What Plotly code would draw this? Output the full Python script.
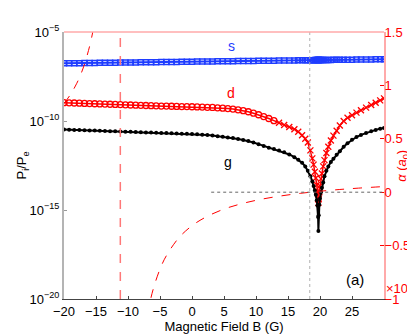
'''
    Partial widths P_i/P_e of the s, d and g channels against the magnetic
    field, with the scattering length drawn on a second (right) axis.
'''

import plotly.graph_objects as go

# field grid shared by the three channels (denser near the minimum)
B_GRID = [-20, -19.2, -18.4, -17.6, -16.8, -16, -15.2, -14.4, -13.6, -12.8,
          -12, -11.2, -10.4, -9.6, -8.8, -8, -7.2, -6.4, -5.6, -4.8,
          -4, -3.2, -2.4, -1.6, -0.8, 0, 0.8, 1.6, 2.4, 3.2,
          4, 4.8, 5.6, 6.4, 7.2, 8, 8.8, 9.6, 10.4, 11.2,
          12, 12.8, 13.6, 14.4, 15.2, 16, 16.6, 17.2, 17.7, 18.1,
          18.5, 18.8, 19.0, 19.2, 19.35, 19.5, 19.6, 19.7, 19.75, 19.8,
          19.9, 20.0, 20.15, 20.3, 20.5, 20.7, 21.0, 21.3, 21.7, 22.1,
          22.6, 23.1, 23.7, 24.3, 25.0, 25.7, 26.4, 27.2, 28.0, 28.7,
          29.4, 30.0]

# log10(P_i/P_e)
S_LOG = [-6.760, -6.756, -6.753, -6.749, -6.745, -6.742, -6.738, -6.734, -6.731, -6.727,
         -6.723, -6.720, -6.716, -6.712, -6.709, -6.705, -6.701, -6.697, -6.694, -6.690,
         -6.686, -6.683, -6.679, -6.675, -6.672, -6.668, -6.664, -6.661, -6.657, -6.653,
         -6.650, -6.646, -6.642, -6.639, -6.635, -6.631, -6.628, -6.624, -6.620, -6.617,
         -6.613, -6.609, -6.606, -6.602, -6.598, -6.595, -6.592, -6.589, -6.587, -6.585,
         -6.583, -6.582, -6.581, -6.580, -6.579, -6.579, -6.578, -6.578, -6.578, -6.577,
         -6.577, -6.576, -6.575, -6.575, -6.574, -6.573, -6.571, -6.570, -6.568, -6.566,
         -6.564, -6.562, -6.559, -6.556, -6.553, -6.550, -6.547, -6.543, -6.540, -6.536,
         -6.533, -6.530]

D_LOG = [-8.97, -8.98, -8.99, -9.00, -9.01, -9.02, -9.03, -9.04, -9.05, -9.06,
         -9.07, -9.08, -9.09, -9.10, -9.11, -9.12, -9.13, -9.14, -9.15, -9.16,
         -9.16, -9.17, -9.18, -9.19, -9.19, -9.20, -9.21, -9.22, -9.23, -9.24,
         -9.26, -9.28, -9.30, -9.33, -9.37, -9.42, -9.48, -9.56, -9.65, -9.75,
         -9.86, -9.98, -10.10, -10.22, -10.34, -10.46, -10.60, -10.80, -11.00, -11.21,
         -11.65, -12.10, -12.45, -12.85, -13.20, -13.60, -13.95, -14.40, -14.60, -14.40,
         -14.00, -13.65, -13.25, -12.95, -12.55, -12.20, -11.80, -11.45, -11.10, -10.82,
         -10.55, -10.25, -10.00, -9.82, -9.68, -9.53, -9.40, -9.25, -9.10, -8.97,
         -8.84, -8.73]

G_LOG = [-10.48, -10.49, -10.50, -10.51, -10.52, -10.53, -10.54, -10.55, -10.56, -10.57,
         -10.58, -10.59, -10.60, -10.61, -10.62, -10.63, -10.64, -10.65, -10.66, -10.67,
         -10.68, -10.69, -10.70, -10.71, -10.72, -10.73, -10.75, -10.77, -10.79, -10.82,
         -10.85, -10.88, -10.92, -10.96, -11.01, -11.07, -11.13, -11.21, -11.30, -11.40,
         -11.50, -11.58, -11.66, -11.76, -11.88, -12.03, -12.17, -12.35, -12.55, -12.80,
         -13.10, -13.40, -13.65, -13.90, -14.15, -14.45, -14.75, -15.40, -16.18, -15.30,
         -14.70, -14.35, -14.00, -13.75, -13.45, -13.10, -12.80, -12.55, -12.30, -12.12,
         -11.90, -11.70, -11.45, -11.25, -11.06, -10.90, -10.78, -10.67, -10.58, -10.50,
         -10.43, -10.39]

# the d channel switches from circles to crosses above this field
D_CROSS_FROM = 13

# scattering length (units of 1e4 a0), two branches around the pole
A_LEFT_B = [-20, -19, -18, -17, -16, -15.5, -15]
A_LEFT = [0.831, 0.914, 1.020, 1.163, 1.366, 1.502, 1.675]
A_RIGHT_B = [-7, -6.5, -6, -5, -4, -2, 0, 2, 5, 8, 11, 14, 17, 20, 23, 26, 30]
A_RIGHT = [-1.154, -1.011, -0.895, -0.720, -0.594, -0.423, -0.314, -0.238,
           -0.158, -0.104, -0.064, -0.034, -0.010, 0.009, 0.025, 0.038, 0.053]

POLE_B = -11.2
ZERO_B = 18.4
ZERO_LINE_FROM = 3

X_TICKS = [-20, -15, -10, -5, 0, 5, 10, 15, 20, 25]
Y_TICKS = [1e-20, 1e-15, 1e-10, 1e-5]
Y_TICK_TEXT = ['10<sup>−20</sup>', '10<sup>−15</sup>', '10<sup>−10</sup>', '10<sup>−5</sup>']

FONT = 'Liberation Sans, Arial, sans-serif'
BLUE = '#1f3dff'
RED = '#ff0000'


def init_figure():
    '''
        Sets up the figure: log left axis, linear right axis, MATLAB-ish frame.
    '''
    fig = go.Figure()

    fig.update_layout(
        width=415, height=334,
        margin=dict(l=54, r=39, t=24, b=38),
        paper_bgcolor='white', plot_bgcolor='white',
        showlegend=False,
        font=dict(family=FONT, size=13, color='black'),
        xaxis=dict(range=[-20, 30], tickvals=X_TICKS, ticks='inside', ticklen=3,
                   tickcolor='#444', showgrid=False, zeroline=False,
                   showline=True, linecolor='#444', linewidth=1,
                   title=dict(text='Magnetic Field B (G)', standoff=2,
                              font=dict(size=13)),
                   tickfont=dict(size=13)),
        yaxis=dict(type='log', range=[-20, -5], tickvals=Y_TICKS, ticktext=Y_TICK_TEXT,
                   ticks='inside', ticklen=3, tickcolor='#999', showgrid=False,
                   zeroline=False, showline=True, linecolor='#b4b4b4', linewidth=2,
                   title=dict(text='P<sub>i</sub>/P<sub>e</sub>', standoff=0,
                              font=dict(size=13)),
                   tickfont=dict(size=13)),
        yaxis2=dict(overlaying='y', side='right', range=[-1, 1.5], dtick=0.5,
                    ticks='inside', ticklen=4, tickcolor=RED, showgrid=False,
                    zeroline=False, showline=True, linecolor='#ffaaaa', linewidth=2,
                    ticklabelstandoff=-4,
                    tickfont=dict(size=13, color=RED)),
    )
    return fig


def draw(fig):
    '''
        Adds the three channels and the scattering length curve.
    '''
    fig.add_trace(go.Scatter(
        x=B_GRID, y=[10 ** v for v in S_LOG], mode='lines+markers',
        line=dict(color=BLUE, width=2),
        marker=dict(symbol='square-open', size=5, color=BLUE, line=dict(width=1.5))))

    d_symbols = ['circle-open' if b < D_CROSS_FROM else 'x-thin-open' for b in B_GRID]
    fig.add_trace(go.Scatter(
        x=B_GRID, y=[10 ** v for v in D_LOG], mode='lines+markers',
        line=dict(color=RED, width=1.5),
        marker=dict(symbol=d_symbols, size=6, color=RED, line=dict(width=1.3, color=RED))))

    fig.add_trace(go.Scatter(
        x=B_GRID, y=[10 ** v for v in G_LOG], mode='lines+markers',
        line=dict(color='black', width=2),
        marker=dict(symbol='circle', size=4, color='black')))

    for bs, vals in ((A_LEFT_B, A_LEFT), (A_RIGHT_B, A_RIGHT)):
        fig.add_trace(go.Scatter(
            x=bs, y=vals, yaxis='y2', mode='lines', line_shape='spline',
            line=dict(color=RED, width=1, dash='dash')))

    # reference lines: pole, zero crossing and a = 0
    fig.add_shape(type='line', xref='x', yref='paper', x0=POLE_B, x1=POLE_B, y0=0, y1=1,
                  line=dict(color='#ff7878', width=1.5, dash='dash'))
    fig.add_shape(type='line', xref='x', yref='paper', x0=ZERO_B, x1=ZERO_B, y0=0, y1=1,
                  line=dict(color='#b0b0b0', width=1, dash='dot'))
    fig.add_shape(type='line', xref='x', yref='y2', x0=ZERO_LINE_FROM, x1=30, y0=0, y1=0,
                  line=dict(color='#666666', width=1, dash='dot'))
    # top edge of the right axis box
    fig.add_shape(type='line', xref='paper', yref='paper', x0=0, x1=1, y0=1, y1=1,
                  line=dict(color='#ffaaaa', width=1.5))

    labels = [('s', 6.1, -5.77, BLUE), ('d', 6.1, -8.42, RED), ('g', 5.6, -12.33, 'black')]
    for text, bx, ly, col in labels:
        fig.add_annotation(x=bx, y=ly, xref='x', yref='y', text=text, showarrow=False,
                           font=dict(size=14, color=col))

    fig.add_annotation(x=0.945, y=0.035, xref='paper', yref='paper', text='(a)',
                       showarrow=False, font=dict(size=15, color='black'))
    fig.add_annotation(x=1.0, y=0.0, xref='paper', yref='paper', xanchor='left',
                       yanchor='bottom', yshift=1, text='×10<sup>4</sup>',
                       showarrow=False, font=dict(size=13, color=RED))
    fig.add_annotation(x=1.09, y=0.5, xref='paper', yref='paper', textangle=-90,
                       text='<i>α</i> (<i>a</i><sub>0</sub>)', showarrow=False,
                       font=dict(size=13, color=RED))
    return fig


fig = draw(init_figure())
fig.write_html('out.html')
